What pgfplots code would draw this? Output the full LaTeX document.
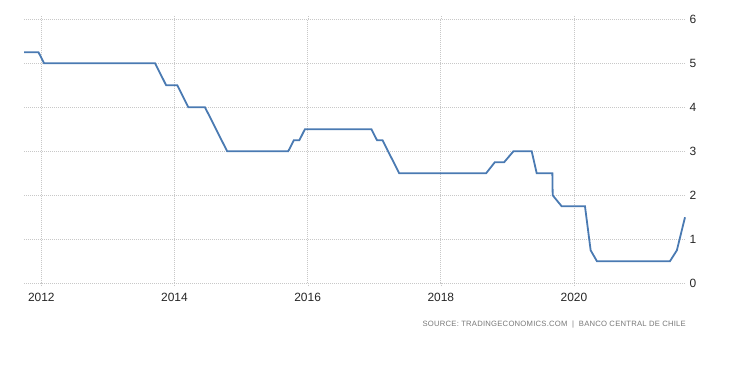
\documentclass[border=0pt]{standalone}
\usepackage{fontspec}
\setmainfont{Liberation Sans}
\newfontfamily\srcfont[LetterSpace=3]{Liberation Sans}
\usepackage{pgfplots}
\pgfplotsset{compat=1.18}
\definecolor{serieblue}{RGB}{74,122,178}
\definecolor{gridgray}{RGB}{200,200,200}
\definecolor{srcgray}{RGB}{120,120,120}
\begin{document}
\begin{tikzpicture}
\useasboundingbox (0,0) rectangle (751bp,371bp);
\begin{axis}[
  at={(24bp,87.7bp)}, anchor=south west,
  scale only axis, width=661bp, height=264bp,
  xmin=2011.74, xmax=2021.667, ymin=0, ymax=6,
  axis line style={draw=none},
  xtick={2012,2014,...,2020},
  ytick={0,1,...,6},
  /pgf/number format/1000 sep={},
  /pgf/number format/assume math mode=true,
  tick label style={font=\fontsize{12}{14}\selectfont, text=black!85},
  xticklabel style={yshift=-3.4bp},
  yticklabel pos=right,
  yticklabel style={xshift=-2bp},
  ytick style={draw=none},
  xtick style={draw=gridgray, dash pattern=on 1bp off 1bp},
  tick align=outside, major tick length=3bp,
  xmajorgrids, ymajorgrids,
  grid style={draw=gridgray, line width=0.8bp, dash pattern=on 1bp off 1bp},
  clip=false,
]
\addplot[color=serieblue, line width=1.8bp] coordinates {
(2011.74,5.25) (2011.958,5.25) (2012.042,5.0) (2013.708,5.0) (2013.792,4.75)
(2013.875,4.5) (2014.042,4.5) (2014.125,4.25) (2014.208,4.0) (2014.458,4.0)
(2014.542,3.75) (2014.625,3.5) (2014.708,3.25) (2014.792,3.0) (2015.708,3.0)
(2015.792,3.25) (2015.875,3.25) (2015.958,3.5) (2016.958,3.5) (2017.042,3.25)
(2017.125,3.25) (2017.208,3.0) (2017.292,2.75) (2017.375,2.5) (2018.68,2.5)
(2018.81,2.75) (2018.95,2.75) (2019.09,3.0) (2019.365,3.0) (2019.44,2.5)
(2019.675,2.5) (2019.68,2.0) (2019.815,1.75) (2020.165,1.75) (2020.25,0.75)
(2020.345,0.5) (2021.44,0.5) (2021.545,0.75) (2021.667,1.5)
};
\end{axis}
\node[anchor=east, inner sep=0pt, text=srcgray, font=\srcfont\fontsize{7.7}{9}\selectfont] at (686bp,46bp) {SOURCE:\ TRADINGECONOMICS.COM\ \ |\ \ BANCO CENTRAL\ DE\ CHILE};
\end{tikzpicture}
\end{document}
